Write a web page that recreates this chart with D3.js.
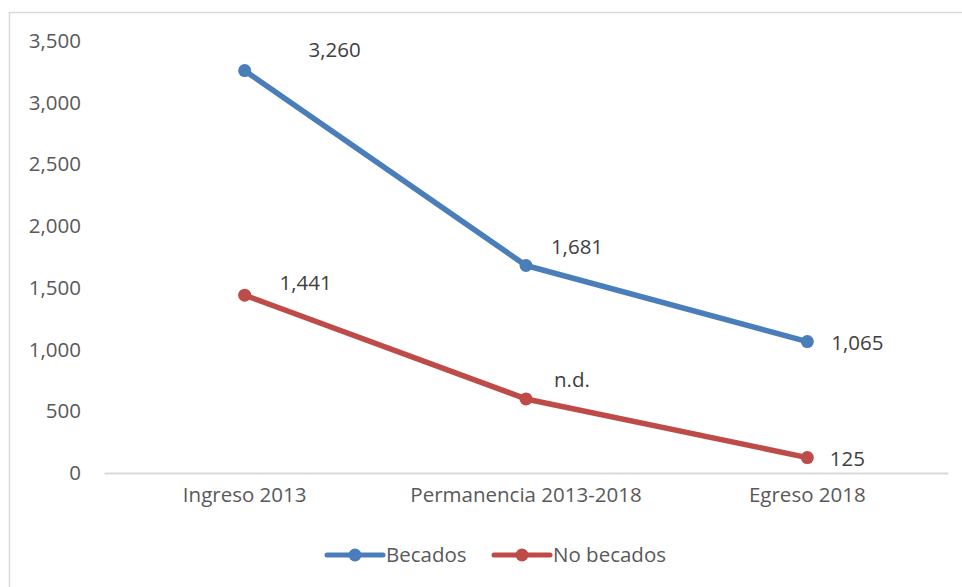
<!DOCTYPE html>
<html>
<head>
<meta charset="utf-8">
<script src="https://cdn.jsdelivr.net/npm/d3@7"></script>
<style>
  body { margin: 0; background: #fff; }
  text { font-family: "Open Sans", "Noto Sans", sans-serif; }
</style>
</head>
<body>
<div id="chart"></div>
<script>
const categories = ['Ingreso 2013', 'Permanencia 2013-2018', 'Egreso 2018'];
const becados = [3260, 1681, 1065];
const noBecados = [1441, 600, 125];
const becadosLabels = ['3,260', '1,681', '1,065'];
const noBecadosLabels = ['1,441', 'n.d.', '125'];
const yTicks = [0, 500, 1000, 1500, 2000, 2500, 3000, 3500];

const width = 962;
const height = 587;
const marginLeft = 104;
const marginRight = 14;
const marginTop = 41;
const axisY = 473;
const fontSize = '20.5px';

// label offsets from the point (dx, dy)
const becadosOffsets = [[90, -21], [51, -19], [50, 1]];
const noBecadosOffsets = [[61, -12], [46, -19], [40, 1]];

const series = [
  { name: 'Becados', values: becados, labels: becadosLabels, offsets: becadosOffsets, color: '#4A7EBB' },
  { name: 'No becados', values: noBecados, labels: noBecadosLabels, offsets: noBecadosOffsets, color: '#BE4B48' }
];

const svg = d3.select('#chart')
  .append('svg')
  .attr('width', width)
  .attr('height', height);

// Chart border
svg.append('rect')
  .attr('x', 9.5)
  .attr('y', 12.5)
  .attr('width', 990)
  .attr('height', 600)
  .attr('fill', 'none')
  .attr('stroke', '#D9D9D9')
  .attr('stroke-width', 1.5);

// X scale
const x = d3.scaleBand()
  .domain(categories)
  .range([marginLeft, width - marginRight]);

// Y scale
const y = d3.scaleLinear()
  .domain([0, 3500])
  .range([axisY, marginTop]);

// Y axis (labels only)
svg.append('g')
  .attr('transform', `translate(81,0)`)
  .call(d3.axisLeft(y).tickValues(yTicks).tickSize(0).tickPadding(0).tickFormat(d3.format(',')))
  .call(g => g.select('.domain').remove())
  .selectAll('text')
  .attr('fill', '#595959')
  .style('font-size', fontSize);

// X axis
svg.append('g')
  .attr('transform', `translate(0,${axisY})`)
  .call(d3.axisBottom(x).tickSize(0).tickPadding(14))
  .call(g => g.select('.domain').attr('stroke', '#D9D9D9').attr('stroke-width', 2))
  .selectAll('text')
  .attr('fill', '#595959')
  .style('font-size', fontSize);

const cx = c => x(c) + x.bandwidth() / 2;

const line = d3.line()
  .x((d, i) => cx(categories[i]))
  .y(d => y(d));

series.forEach(s => {
  svg.append('path')
    .datum(s.values)
    .attr('fill', 'none')
    .attr('stroke', s.color)
    .attr('stroke-width', 5.5)
    .attr('stroke-linejoin', 'round')
    .attr('stroke-linecap', 'round')
    .attr('d', line);

  svg.selectAll(null)
    .data(s.values)
    .enter()
    .append('circle')
    .attr('cx', (d, i) => cx(categories[i]))
    .attr('cy', d => y(d))
    .attr('r', 6.5)
    .attr('fill', s.color);

  svg.selectAll(null)
    .data(s.values)
    .enter()
    .append('text')
    .attr('x', (d, i) => cx(categories[i]) + s.offsets[i][0])
    .attr('y', (d, i) => y(d) + s.offsets[i][1])
    .attr('dy', '0.35em')
    .attr('text-anchor', 'middle')
    .attr('fill', '#404040')
    .style('font-size', fontSize)
    .text((d, i) => s.labels[i]);
});

// Legend
const legend = [
  { name: 'Becados', color: '#4A7EBB', x: 327 },
  { name: 'No becados', color: '#BE4B48', x: 494 }
];
const legendY = 555;
legend.forEach(l => {
  const g = svg.append('g').attr('transform', `translate(${l.x},${legendY})`);
  g.append('line')
    .attr('x1', 0).attr('x2', 56)
    .attr('stroke', l.color)
    .attr('stroke-width', 5)
    .attr('stroke-linecap', 'round');
  g.append('circle')
    .attr('cx', 28)
    .attr('r', 6.5)
    .attr('fill', l.color);
  g.append('text')
    .attr('x', 59)
    .attr('dy', '0.35em')
    .attr('fill', '#595959')
    .style('font-size', fontSize)
    .text(l.name);
});
</script>
</body>
</html>
